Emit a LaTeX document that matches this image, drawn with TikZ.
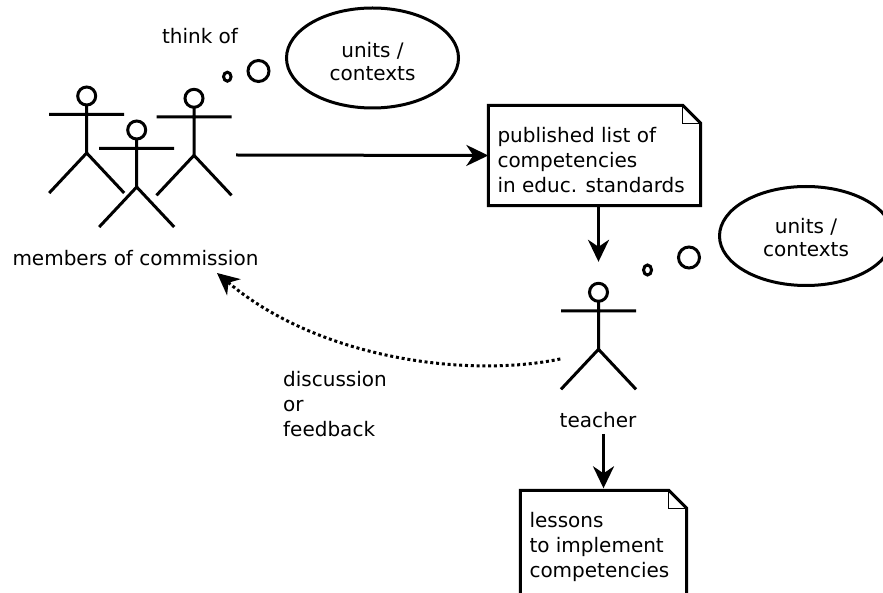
\documentclass[tikz,border=0pt]{standalone}
\usepackage{fontspec}
\setmainfont{DejaVu Sans}
\usetikzlibrary{arrows.meta,shapes.geometric}
\newcommand\mlines[3]{\raisebox{#1}[\height][\depth]{\begin{tabular}{@{}#2@{}}#3\end{tabular}}}
\newcommand\docoutline[1]{%
  \draw[lw, line join=miter] (#1.north west) -- ([xshift=-18pt]#1.north east) -- ([yshift=-18pt]#1.north east) -- (#1.south east) -- (#1.south west) -- cycle;
  \draw[line width=1.4pt] ([xshift=-18pt]#1.north east) |- ([yshift=-18pt]#1.north east);}
\tikzset{
  lw/.style={line width=3pt},
  arr/.style={lw, -{Stealth[length=22pt,width=21pt,inset=7pt]}},
  txt/.style={font=\fontsize{20pt}{25pt}\selectfont, inner sep=0pt},
  ell/.style={ellipse, draw, lw, inner sep=0pt, minimum width=172pt, minimum height=100pt, font=\fontsize{20pt}{23pt}\selectfont},
  bub/.style={ellipse, draw, lw, inner sep=0pt},
  area/.style={inner sep=0pt},
  stickman/.pic={
    \draw[lw] (0,0) circle[radius=9pt];
    \draw[lw] (0,9) -- (0,57) (-37.5,18.5) -- (37.5,18.5) (-37.5,97) -- (0,57) -- (37.5,97);
  }
}
\begin{document}
\begin{tikzpicture}[x=1pt,y=-1pt]
\path[fill=white, use as bounding box] (0,0) rectangle (883,593);

% members of commission
\pic at (86.7,96) {stickman};
\pic at (194,98.3) {stickman};
\pic at (136.7,130) {stickman};
\node (comm) [area, minimum width=187pt, minimum height=150pt] at (142.5,155) {};
\node (mlabel) [txt, anchor=base] at (135.5,266) {members of commission};
\node (think) [txt, anchor=base] at (200,43.3) {think of};
\node (b1s) [bub, minimum width=7.5pt, minimum height=9pt] at (227.3,76.7) {};
\node (b1l) [bub, minimum width=21pt, minimum height=21pt] at (258.5,71) {};
\node (e1) [ell] at (372.5,58) {\mlines{-6pt}{c}{units /\\contexts}};

% published list
\node (doc1) [txt, inner xsep=9pt, minimum height=100pt] at (594.5,155.5)
  {\makebox[194pt][l]{\mlines{-7.5pt}{l}{published list of\\competencies\\in educ. standards}}};
\docoutline{doc1}

% teacher
\pic at (598.5,292.3) {stickman};
\node (tfig) [area, minimum width=76pt, minimum height=108pt] at (598.5,336) {};
\node (tlabel) [txt, anchor=base] at (598,427.7) {teacher};
\node (b2s) [bub, minimum width=8pt, minimum height=10pt] at (647.5,270) {};
\node (b2l) [bub, minimum width=21pt, minimum height=21pt] at (689,257.5) {};
\node (e2) [ell, minimum width=173pt, minimum height=99pt] at (806,236) {\mlines{-4pt}{c}{units /\\contexts}};

% lessons
\node (doc2) [txt, inner xsep=9pt, minimum height=109pt] at (603.5,545)
  {\makebox[148pt][l]{\mlines{-2.5pt}{l}{lessons\\to implement\\competencies}}};
\docoutline{doc2}

% feedback label
\node (fb) [txt, anchor=west] at (283,406) {\mlines{0pt}{l}{discussion\\or\\feedback}};

% connectors
\coordinate (fbend) at (217,273);
\draw[arr] (comm.east) -- (doc1.west);
\draw[arr, shorten >=20pt] (doc1.south -| tfig.north) -- (tfig.north);
\draw[arr, shorten <=5.7pt, shorten >=2pt] (tlabel.south -| doc2.north) -- (doc2.north);
\draw[arr, dash pattern=on 3pt off 2.8pt] (tfig.211) .. controls (470,378) and (320,360) .. (fbend);
\end{tikzpicture}
\end{document}
